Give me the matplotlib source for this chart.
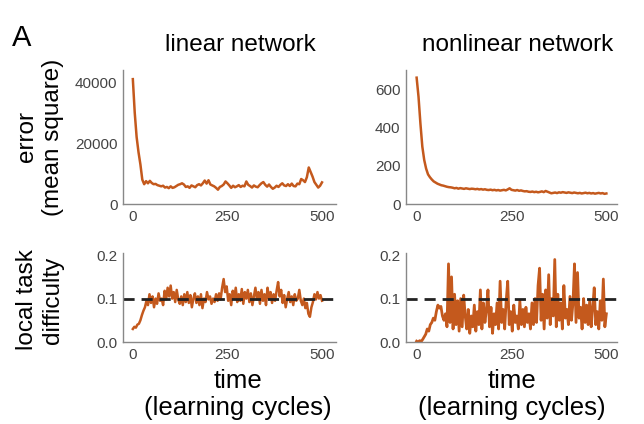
import matplotlib.pyplot as plt

plt.rcParams['font.family'] = ['Liberation Sans', 'DejaVu Sans']

# learning cycles, sampled every 5 (error) and every 4 (difficulty)
cycles_err = list(range(0, 501, 5))
cycles_diff = list(range(0, 501, 4))

lin_error = [41000, 30000, 22000, 17000, 13000, 8000, 6500, 7500, 6800, 7600,
             6900, 6500, 6600, 6200, 6000, 5800, 6000, 5400, 5600, 5200,
             5800, 5300, 5500, 5900, 6300, 6500, 6800, 6400, 5600, 5800,
             5300, 6100, 5800, 5500, 6200, 6500, 6100, 6800, 7700, 6700,
             7800, 6400, 6100, 5800, 5300, 4700, 5600, 5900, 6400, 7400,
             6800, 6100, 5300, 6000, 5500, 5800, 6200, 5600, 6000, 5800,
             7400, 6300, 5900, 5400, 6100, 5700, 5500, 6200, 6800, 7200,
             6300, 5700, 6400, 5600, 5000, 5400, 6000, 5600, 6300, 6800,
             6100, 5900, 6500, 5900, 6700, 5900, 5800, 6700, 6500, 8200,
             7800, 7200, 8800, 12000, 10500, 9000, 7200, 6300, 5400, 6000,
             7100]

nonlin_error = [660, 560, 420, 300, 230, 185, 155, 140, 128, 118,
                112, 106, 102, 98, 96, 93, 90, 88, 87, 85,
                82, 84, 80, 83, 81, 79, 82, 80, 78, 80,
                79, 77, 79, 76, 78, 75, 77, 74, 73, 75,
                72, 74, 71, 73, 70, 72, 74, 71, 76, 82,
                74, 72, 70, 73, 69, 71, 68, 66, 67, 64,
                63, 65, 62, 64, 61, 63, 66, 62, 68, 64,
                60, 56, 58, 60, 57, 61, 59, 62, 60, 58,
                61, 59, 57, 60, 58, 56, 58, 55, 57, 59,
                56, 58, 55, 57, 54, 56, 58, 55, 57, 53,
                55]

lin_diff = [0.030, 0.035, 0.033, 0.040, 0.042, 0.050, 0.062, 0.072, 0.080, 0.095,
            0.085, 0.110, 0.090, 0.105, 0.080, 0.100, 0.088, 0.112, 0.095, 0.100,
            0.085, 0.118, 0.098, 0.125, 0.105, 0.130, 0.100, 0.115, 0.092, 0.120,
            0.098, 0.088, 0.105, 0.085, 0.110, 0.092, 0.115, 0.090, 0.108, 0.080,
            0.100, 0.112, 0.090, 0.105, 0.085, 0.110, 0.078, 0.100, 0.092, 0.115,
            0.098, 0.105, 0.088, 0.100, 0.092, 0.110, 0.095, 0.112, 0.098, 0.125,
            0.145, 0.115, 0.128, 0.095, 0.110, 0.085, 0.118, 0.100, 0.125, 0.092,
            0.110, 0.095, 0.122, 0.088, 0.115, 0.100, 0.120, 0.092, 0.112, 0.085,
            0.105, 0.125, 0.098, 0.115, 0.088, 0.120, 0.095, 0.110, 0.085, 0.125,
            0.100, 0.115, 0.090, 0.110, 0.095, 0.118, 0.138, 0.105, 0.120, 0.090,
            0.108, 0.080, 0.100, 0.115, 0.092, 0.105, 0.085, 0.110, 0.095, 0.100,
            0.120, 0.095, 0.085, 0.100, 0.078, 0.090, 0.065, 0.058, 0.080, 0.092,
            0.110, 0.098, 0.115, 0.100, 0.108, 0.095]

nonlin_diff = [0.002, 0.000, 0.003, 0.001, 0.006, 0.012, 0.018, 0.030, 0.025, 0.040,
               0.045, 0.055, 0.050, 0.070, 0.085, 0.078, 0.082, 0.060, 0.050, 0.065,
               0.035, 0.180, 0.045, 0.150, 0.030, 0.110, 0.040, 0.095, 0.025, 0.100,
               0.035, 0.108, 0.060, 0.030, 0.075, 0.020, 0.060, 0.035, 0.085, 0.025,
               0.070, 0.040, 0.120, 0.030, 0.090, 0.045, 0.075, 0.120, 0.035, 0.080,
               0.020, 0.065, 0.040, 0.090, 0.030, 0.140, 0.045, 0.075, 0.030, 0.095,
               0.140, 0.040, 0.070, 0.025, 0.085, 0.045, 0.060, 0.030, 0.095, 0.040,
               0.075, 0.035, 0.080, 0.045, 0.065, 0.030, 0.090, 0.040, 0.100, 0.045,
               0.130, 0.170, 0.050, 0.110, 0.030, 0.120, 0.055, 0.155, 0.040, 0.100,
               0.060, 0.190, 0.035, 0.110, 0.050, 0.090, 0.030, 0.130, 0.055, 0.075,
               0.040, 0.105, 0.050, 0.090, 0.180, 0.045, 0.160, 0.055, 0.080, 0.030,
               0.100, 0.045, 0.085, 0.040, 0.095, 0.035, 0.080, 0.125, 0.040, 0.070,
               0.030, 0.095, 0.050, 0.145, 0.035, 0.065]

target_difficulty = 0.1

line_color = '#c4591d'
W, H = 644, 424


def px_axes(fig, left, right, top, bottom):
    return fig.add_axes([left / W, (H - bottom) / H, (right - left) / W, (bottom - top) / H])


def style(ax):
    for s in ['top', 'right']:
        ax.spines[s].set_visible(False)
    for s in ['left', 'bottom']:
        ax.spines[s].set_color('#888888')
        ax.spines[s].set_linewidth(1.0)
    ax.tick_params(length=0, labelsize=11, labelcolor='#444444', pad=4)


fig = plt.figure(figsize=(W / 100, H / 100), dpi=100)

ax1 = px_axes(fig, 123, 336, 70, 204)
ax1.plot(cycles_err, lin_error, color=line_color, lw=1.8)
ax1.set_xlim(-26, 537)
ax1.set_ylim(0, 44000)
ax1.set_yticks([0, 20000, 40000])
ax1.set_xticks([0, 250, 500])
ax1.set_title('linear network', fontsize=17.5, pad=14, x=0.55)
style(ax1)

ax2 = px_axes(fig, 406, 617, 70, 204)
ax2.plot(cycles_err, nonlin_error, color=line_color, lw=1.8)
ax2.set_xlim(-28, 528)
ax2.set_ylim(0, 700)
ax2.set_yticks([0, 200, 400, 600])
ax2.set_xticks([0, 250, 500])
ax2.set_title('nonlinear network', fontsize=17.5, pad=14, x=0.53)
style(ax2)

ax3 = px_axes(fig, 123, 336, 253, 342)
ax3.plot(cycles_diff, lin_diff, color=line_color, lw=1.8)
ax3.axhline(target_difficulty, color='#222222', ls=(0, (4, 2.5)), lw=2)
ax3.set_xlim(-26, 537)
ax3.set_ylim(0, 0.205)
ax3.set_yticks([0.0, 0.1, 0.2])
ax3.set_yticklabels(['0.0', '0.1', '0.2'])
ax3.set_xticks([0, 250, 500])
ax3.set_xlabel('time\n(learning cycles)', fontsize=18.5, labelpad=5)
ax3.xaxis.label.set_x(0.54)  # sits a bit right of centre in the original
style(ax3)

ax4 = px_axes(fig, 406, 617, 253, 342)
ax4.plot(cycles_diff, nonlin_diff, color=line_color, lw=2.0)
ax4.axhline(target_difficulty, color='#222222', ls=(0, (4, 2.5)), lw=2)
ax4.set_xlim(-28, 528)
ax4.set_ylim(0, 0.205)
ax4.set_yticks([0.0, 0.1, 0.2])
ax4.set_yticklabels(['0.0', '0.1', '0.2'])
ax4.set_xticks([0, 250, 500])
ax4.set_xlabel('time\n(learning cycles)', fontsize=18.5, labelpad=5)
style(ax4)

fig.text(40 / W, 1 - 137 / H, 'error\n(mean square)', fontsize=17.5, rotation=90,
         ha='center', va='center', multialignment='center')
fig.text(40 / W, 1 - 300 / H, 'local task\ndifficulty', fontsize=17.5, rotation=90,
         ha='center', va='center', multialignment='center')
fig.text(12 / W, 1 - 38 / H, 'A', fontsize=21, ha='left', va='center')

fig.savefig('out.png', dpi=100)
